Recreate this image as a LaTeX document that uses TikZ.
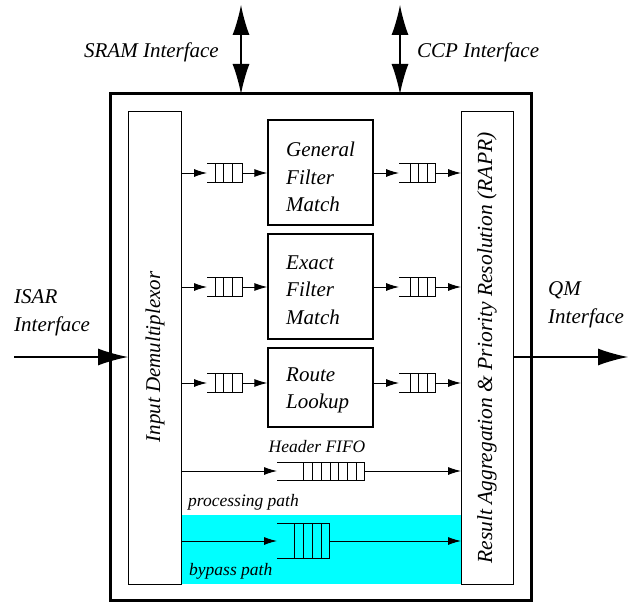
\documentclass[tikz,border=0pt]{standalone}
\usepackage{fontspec}
\setmainfont{Liberation Serif}
\usetikzlibrary{arrows.meta}
\definecolor{bypasscyan}{RGB}{0,255,255}
\begin{document}
\begin{tikzpicture}[x=1pt,y=-1pt,
  lbl/.style={font=\fontsize{21}{27.5}\selectfont\itshape, inner sep=0pt},
  slbl/.style={font=\fontsize{17.5}{21}\selectfont\itshape, inner sep=0pt},
  blk/.style={draw, line width=1.4pt},
  thin/.style={line width=0.9pt},
  sarr/.style={thin, -{Latex[length=13pt,width=8pt]}},
  barr/.style={line width=1.2pt, -{Latex[length=30pt,width=17pt]}},
  dbarr/.style={line width=1.2pt, {Latex[length=30pt,width=17pt]}-{Latex[length=30pt,width=17pt]}}
]
\useasboundingbox (0,0) rectangle (633,602);
% cyan bypass region
\fill[bypasscyan] (181,515) rectangle (461,584);
% outer box
\draw[line width=3pt] (110,94) rectangle (531,600);
% demux and rapr
\node[blk, minimum width=53pt, minimum height=473pt, anchor=north west, inner sep=0pt] (demux) at (128,111) {};
\node[blk, minimum width=52pt, minimum height=473pt, anchor=north west, inner sep=0pt] (rapr) at (461,111) {};
\node[lbl, rotate=90] (demuxt) at (155,357) {Input Demultiplexor};
\node[lbl, rotate=90, font=\fontsize{21.5}{26}\selectfont\itshape] (raprt) at (487,348) {Result Aggregation \& Priority Resolution (RAPR)};
% processing blocks
\node[blk, minimum width=105pt, minimum height=105pt, inner sep=0pt] (gfm) at (320.5,172.5) {};
\node[lbl, align=left, anchor=west] (gfmt) at (286,177) {General\\Filter\\Match};
\node[blk, minimum width=105pt, minimum height=105pt, inner sep=0pt] (efm) at (320.5,286.5) {};
\node[lbl, align=left, anchor=west] (efmt) at (286,290) {Exact\\Filter\\Match};
\node[blk, minimum width=105pt, minimum height=79pt, inner sep=0pt] (rl) at (320.5,387.5) {};
\node[lbl, align=left, anchor=west] (rlt) at (286,390.5) {Route\\Lookup};
% small queues
\foreach \r/\y in {g/173, e/287, r/383}{
  \coordinate (qin\r) at (207,\y);
  \coordinate (qout\r) at (242,\y);
  \coordinate (pin\r) at (399,\y);
  \coordinate (pout\r) at (435,\y);
  \draw[thin] (207,\y-9.5) -- (242,\y-9.5) -- (242,\y+9.5) -- (207,\y+9.5);
  \foreach \xx in {215,223.5,232.5}{\draw[thin] (\xx,\y-9.5) -- (\xx,\y+9.5);}
  \draw[thin] (399,\y-9.5) -- (435,\y-9.5) -- (435,\y+9.5) -- (399,\y+9.5);
  \foreach \xx in {410,418.5,427}{\draw[thin] (\xx,\y-9.5) -- (\xx,\y+9.5);}
  \draw[sarr] (demux.east |- qin\r) -- (qin\r);
  \draw[sarr] (qout\r) -- (qout\r -| gfm.west);
  \draw[sarr] (qin\r -| gfm.east) -- (pin\r);
  \draw[sarr] (pout\r) -- (pout\r -| rapr.west);
}
% header FIFO
\coordinate (hin) at (277,471);
\coordinate (hout) at (364,471);
\draw[thin] (277,462) -- (364,462) -- (364,480) -- (277,480);
\foreach \xx in {303,312,321,330,338.5,347,356}{\draw[thin] (\xx,462) -- (\xx,480);}
\draw[sarr] (demux.east |- hin) -- (hin);
\draw[sarr] (hout) -- (hout -| rapr.west);
\node[slbl] (hfifo) at (317,447) {Header FIFO};
\node[slbl, anchor=west] (ppath) at (188,502) {processing path};
% bypass queue
\coordinate (bin) at (277,541);
\coordinate (bout) at (329,541);
\draw[thin] (277,523) -- (329,523) -- (329,558) -- (277,558);
\foreach \xx in {294,303,312,321}{\draw[thin] (\xx,523) -- (\xx,558);}
\draw[sarr] (demux.east |- bin) -- (bin);
\draw[sarr] (bout) -- (bout -| rapr.west);
\node[slbl, anchor=west] (bpath) at (189,571) {bypass path};
% external interfaces
\coordinate (sramtop) at (241,5);
\coordinate (ccptop) at (400,5);
\draw[dbarr] (sramtop) -- (241,94);
\draw[dbarr] (ccptop) -- (400,94);
\node[lbl, anchor=east] (sram) at (219,52) {SRAM Interface};
\node[lbl, anchor=west] (ccp) at (417,52) {CCP Interface};
\coordinate (isar) at (14,357);
\draw[barr] (isar) -- (demux.west |- isar);
\node[lbl, anchor=west, align=left] (isart) at (14,313) {ISAR\\Interface};
\coordinate (qm) at (628,357);
\draw[barr] (rapr.east |- qm) -- (qm);
\node[lbl, anchor=west, align=left] (qmt) at (548,305) {QM\\Interface};
\end{tikzpicture}
\end{document}
